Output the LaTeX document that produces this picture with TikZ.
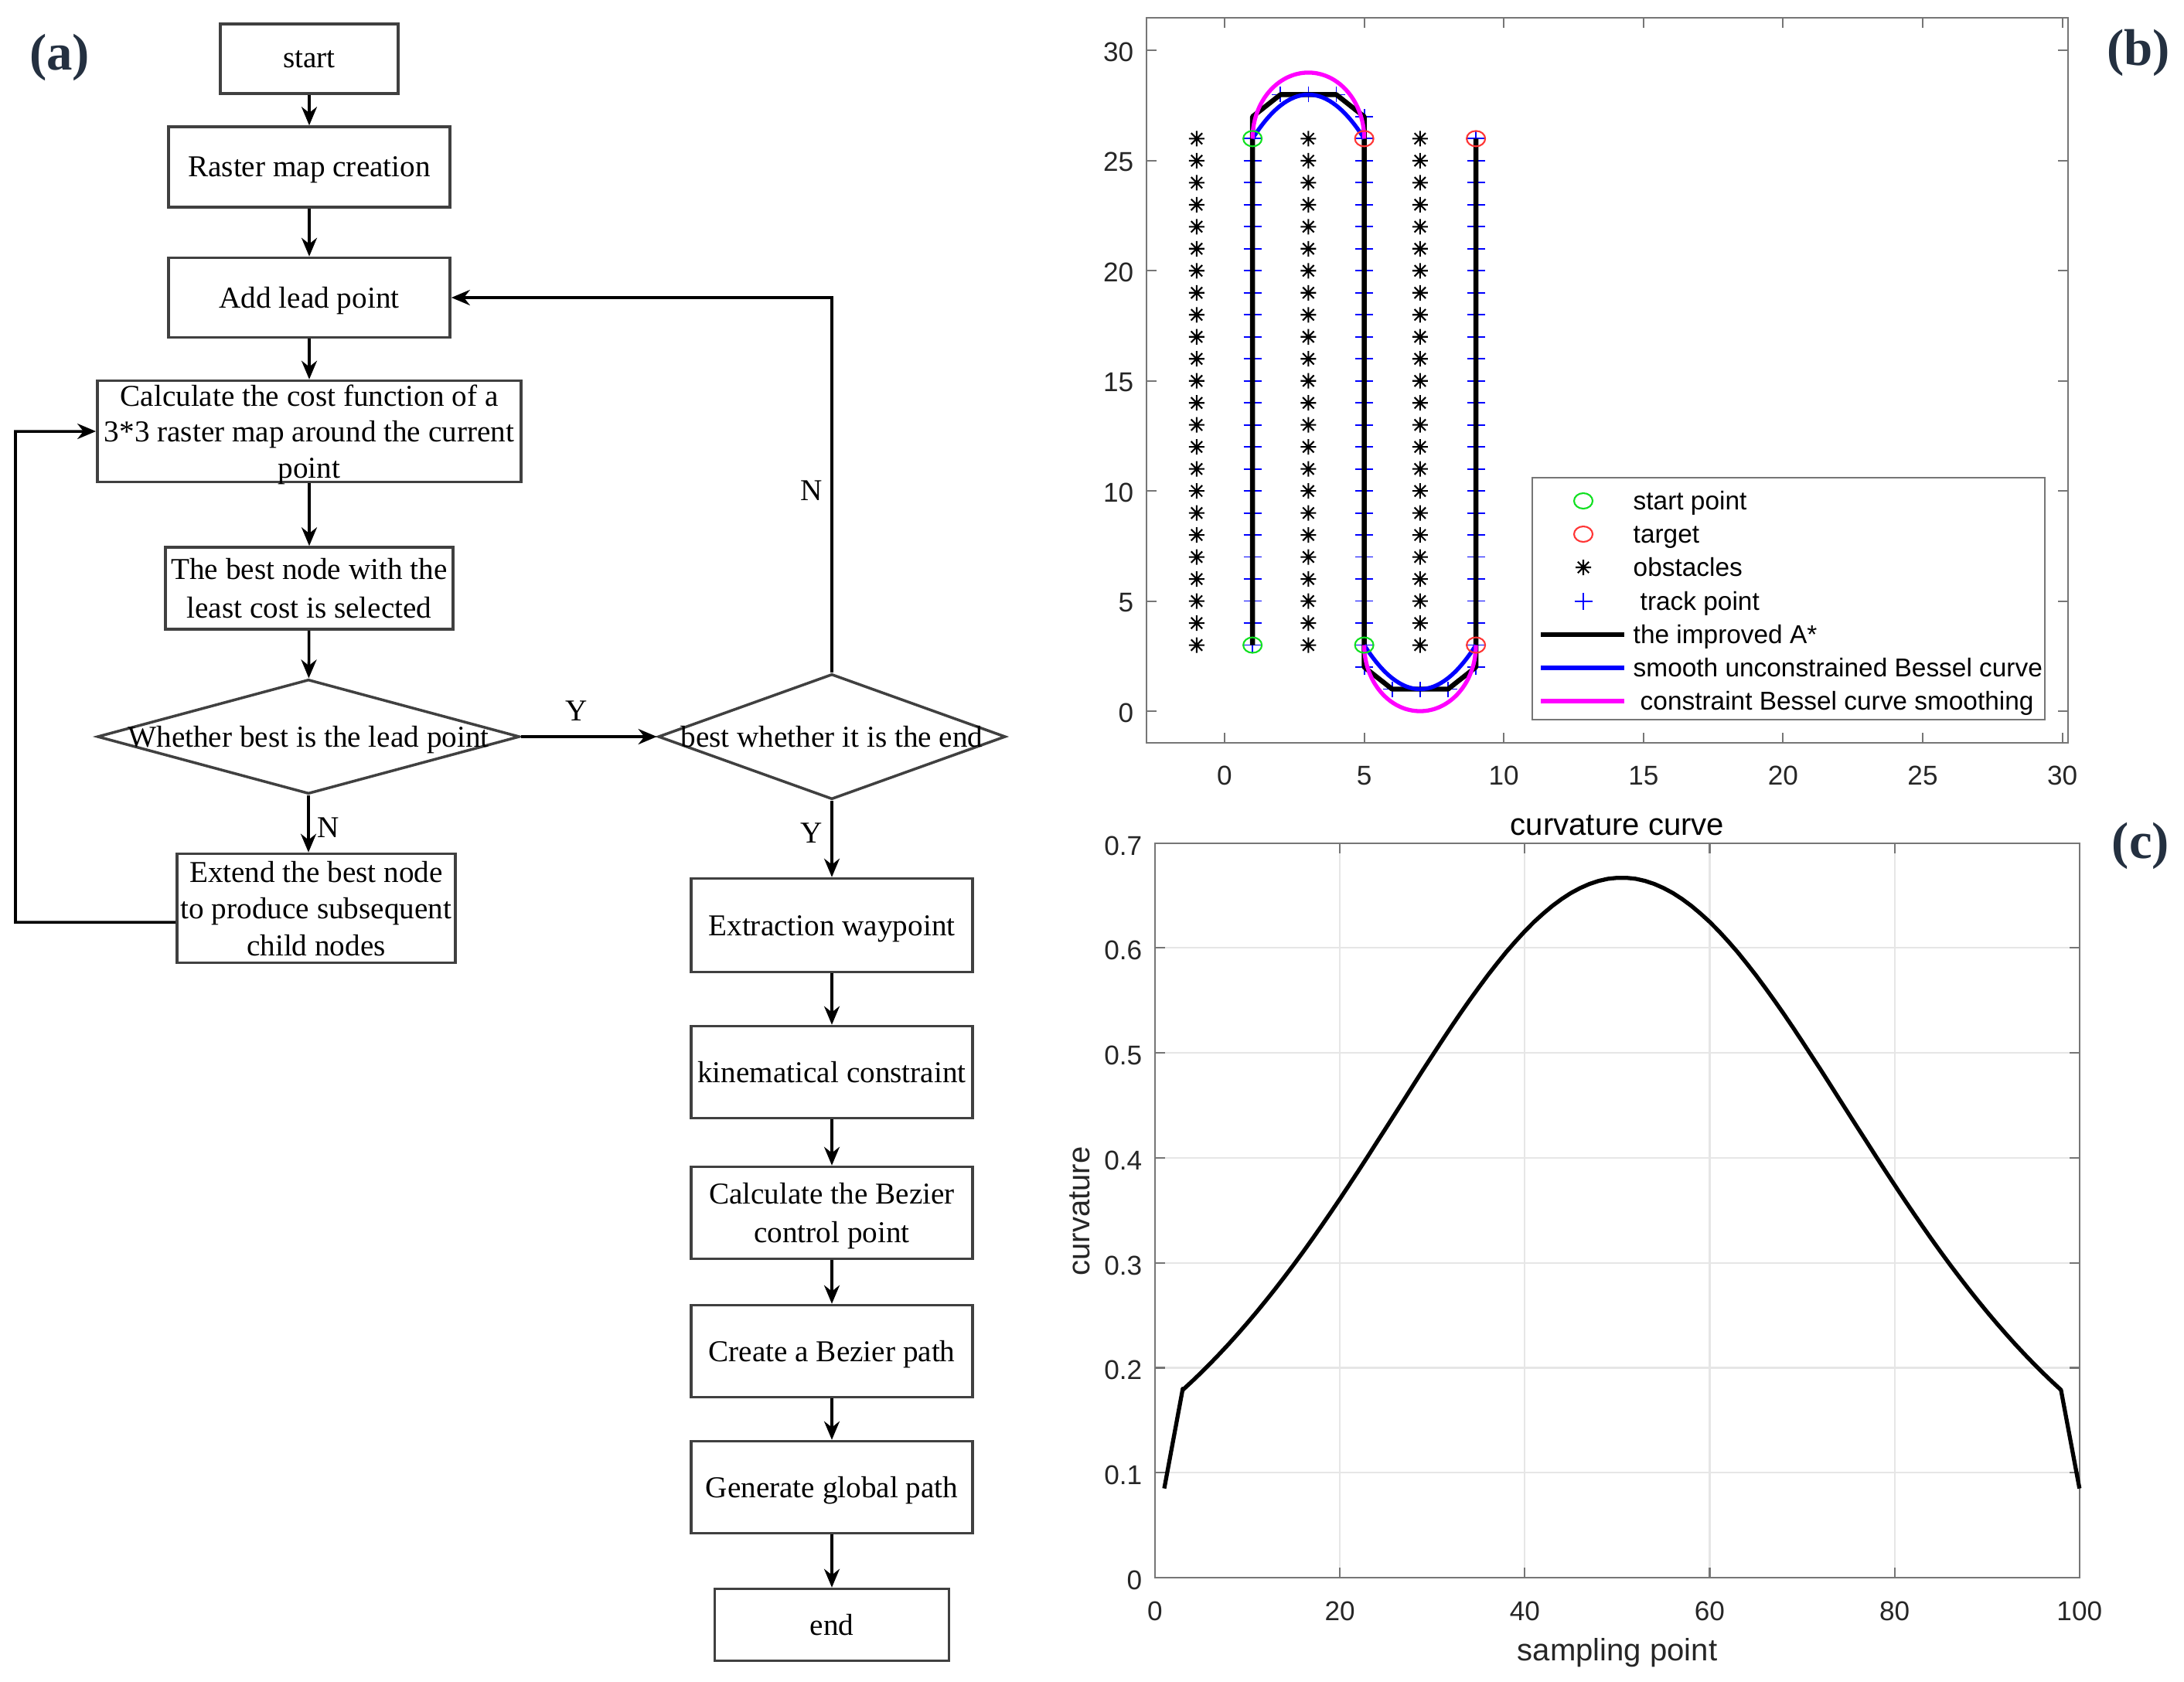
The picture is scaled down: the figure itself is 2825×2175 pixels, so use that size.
\documentclass[tikz,border=0pt]{standalone}
\usepackage{fontspec}
\setmainfont{Liberation Serif}
\setsansfont{Liberation Sans}
\usetikzlibrary{arrows.meta,shapes.geometric}
\definecolor{boxgray}{HTML}{404040}
\definecolor{axgray}{HTML}{767676}
\definecolor{labcol}{HTML}{262626}
\definecolor{gridcol}{HTML}{E6E6E6}
\definecolor{panelcol}{HTML}{243040}
\definecolor{mgreen}{HTML}{10E020}
\definecolor{mred}{HTML}{FF3535}
\definecolor{mblue}{HTML}{0000FF}
\definecolor{mmag}{HTML}{FF00FF}
\newcommand\flowfnt{\fontsize{11.15}{13.5}\selectfont}
\newcommand\tickfnt{\sffamily\fontsize{10}{12}\selectfont}
\newcommand\axlabfnt{\sffamily\fontsize{11.4}{13}\selectfont}
\newcommand\legfnt{\sffamily\fontsize{9.5}{11}\selectfont}
\newcommand\panelfnt{\fontsize{19}{20}\selectfont\bfseries}
\begin{document}
\begin{tikzpicture}[x=0.01cm, y=-0.01cm,
  fbox/.style={draw=boxgray, line width=1pt, fill=white, inner sep=0pt, align=center, font=\flowfnt, text depth=0pt},
  dia/.style={draw=boxgray, line width=1pt, diamond, inner sep=0pt},
  ftext/.style={inner sep=0pt, font=\flowfnt},
  arr/.style={draw=black, line width=1pt, -{Stealth[length=0.24cm,width=0.2cm]}},
  axline/.style={draw=axgray, line width=0.6pt},
  ticklab/.style={text=labcol, font=\tickfnt, inner sep=0pt},
  leglab/.style={text=black, font=\legfnt, inner sep=0pt, anchor=mid west},
  panel/.style={text=panelcol, font=\panelfnt, inner sep=0pt}]
\useasboundingbox (0,0) rectangle (2825,2175);

% ---------------- panel labels
\node[panel] (pa) at (77,74) {(a)};
\node[panel] (pb) at (2766,68) {(b)};
\node[panel] (pc) at (2769,1094) {(c)};

% ---------------- flowchart
\node[fbox, minimum width=2.30cm, minimum height=0.90cm] (start) at (400,76) {start};
\node[fbox, minimum width=3.64cm, minimum height=1.04cm] (raster) at (400,216) {Raster map creation};
\node[fbox, minimum width=3.64cm, minimum height=1.03cm] (lead) at (400,385) {Add lead point};
\node[fbox, minimum width=5.48cm, minimum height=1.31cm, font=\fontsize{11.15}{13.2}\selectfont] (cost) at (400,558) {Calculate the cost function of a\\3*3 raster map around the current\\point};
\node[fbox, minimum width=3.72cm, minimum height=1.06cm, font=\fontsize{11.15}{14.2}\selectfont] (best) at (400,761) {The best node with the\\least cost is selected};
\node[dia, minimum width=5.46cm, minimum height=1.48cm] (d1) at (399,953) {};
\node[ftext, text depth=0pt] (d1t) at (d1.center) {Whether best is the lead point};
\node[dia, minimum width=4.49cm, minimum height=1.62cm] (d2) at (1076,953) {};
\node[ftext, text depth=0pt] (d2t) at (d2.center) {best whether it is the end};
\node[fbox, minimum width=3.60cm, minimum height=1.41cm] (extend) at (409,1175) {Extend the best node\\to produce subsequent\\child nodes};
\node[fbox, minimum width=3.64cm, minimum height=1.21cm] (waypt) at (1076,1197) {Extraction waypoint};
\node[fbox, minimum width=3.64cm, minimum height=1.19cm] (kin) at (1076,1387) {kinematical constraint};
\node[fbox, minimum width=3.64cm, minimum height=1.19cm, font=\fontsize{11.15}{14.2}\selectfont] (ctrl) at (1076,1569) {Calculate the Bezier\\control point};
\node[fbox, minimum width=3.64cm, minimum height=1.19cm] (bpath) at (1076,1748) {Create a Bezier path};
\node[fbox, minimum width=3.64cm, minimum height=1.19cm] (glob) at (1076,1924) {Generate global path};
\node[fbox, minimum width=3.03cm, minimum height=0.93cm] (fend) at (1076,2102) {end};

\draw[arr] (start) -- (raster);
\draw[arr] (raster) -- (lead);
\draw[arr] (lead) -- (cost);
\draw[arr] (cost) -- (best);
\draw[arr] (best) -- (d1);
\draw[arr] (d1.east) -- (d2.west);
\draw[arr] (d1.south) -- (d1.south |- extend.north);
\coordinate (loopL) at (20,1193);
\draw[arr] ([yshift=-0.18cm]extend.west) -- (loopL) |- (cost.west);
\draw[arr] (d2.north) |- (lead.east);
\draw[arr] (d2.south) -- (waypt.north);
\draw[arr] (waypt) -- (kin);
\draw[arr] (kin) -- (ctrl);
\draw[arr] (ctrl) -- (bpath);
\draw[arr] (bpath) -- (glob);
\draw[arr] (glob) -- (fend);

\node[ftext] (lY1) at (746,920) {Y};
\node[ftext] (lN1) at (1050,635) {N};
\node[ftext] (lN2) at (425,1071) {N};
\node[ftext] (lY2) at (1050,1078) {Y};

% ---------------- plot (b)
\begin{scope}[shift={(1584,920)}, x=0.361cm, y=0.2847cm]
  \draw[axline] (-2.8,-1.44) rectangle (30.2,31.5);
  \foreach \t in {0,5,...,30} {
    \draw[axline] (\t,-1.44) -- ++(0,0.457);
    \draw[axline] (\t,31.5) -- ++(0,-0.457);
    \draw[axline] (-2.8,\t) -- ++(0.36,0);
    \draw[axline] (30.2,\t) -- ++(-0.36,0);
    \node[ticklab] (bx\t) at (\t,-2.92) {\t};
    \node[ticklab, anchor=east] (by\t) at (-3.24,\t-0.07) {\t};
  }
  % obstacles
  \foreach \cx in {-1,3,7} {
    \foreach \cy in {3,...,26} {
      \draw[black, line width=0.6pt] (\cx,\cy) +(-0.1cm,0) -- +(0.1cm,0)
        (\cx,\cy) +(0,-0.1cm) -- +(0,0.1cm)
        (\cx,\cy) +(-0.072cm,-0.072cm) -- +(0.072cm,0.072cm)
        (\cx,\cy) +(-0.072cm,0.072cm) -- +(0.072cm,-0.072cm);
    }
  }
  % track points
  \foreach \px/\py in {2/28,3/28,4/28,6/1,7/1,8/1} {
    \draw[mblue, line width=0.5pt] (\px,\py) +(-0.115cm,0) -- +(0.115cm,0) (\px,\py) +(0,-0.1cm) -- +(0,0.1cm);
  }
  \foreach \py in {3,...,26} {
    \draw[mblue, line width=0.5pt] (1,\py) +(-0.115cm,0) -- +(0.115cm,0) (1,\py) +(0,-0.1cm) -- +(0,0.1cm);
  }
  \foreach \py in {2,...,27} {
    \draw[mblue, line width=0.5pt] (5,\py) +(-0.115cm,0) -- +(0.115cm,0) (5,\py) +(0,-0.1cm) -- +(0,0.1cm);
  }
  \foreach \py in {2,...,26} {
    \draw[mblue, line width=0.5pt] (9,\py) +(-0.115cm,0) -- +(0.115cm,0) (9,\py) +(0,-0.1cm) -- +(0,0.1cm);
  }
  % improved A*
  \draw[black, line width=1.8pt, line join=round] (1,3) -- (1,27) -- (2,28) -- (4,28) -- (5,27) -- (5,2) -- (6,1) -- (8,1) -- (9,2) -- (9,26);
  % unconstrained Bezier
  \draw[mblue, line width=1.5pt] (1,26) .. controls (2.333,28.667) and (3.667,28.667) .. (5,26);
  \draw[mblue, line width=1.5pt] (5,3) .. controls (6.333,0.333) and (7.667,0.333) .. (9,3);
  % constrained Bezier
  \draw[mmag, line width=1.5pt] (1,26) arc[start angle=180, end angle=0, x radius=2, y radius=3];
  \draw[mmag, line width=1.5pt] (5,3) arc[start angle=180, end angle=360, x radius=2, y radius=3];
  % start / target
  \foreach \px/\py in {1/26,1/3,5/3} {
    \draw[mgreen, line width=0.6pt] (\px,\py) ellipse[x radius=0.12cm, y radius=0.1cm];
  }
  \foreach \px/\py in {5/26,9/26,9/3} {
    \draw[mred, line width=0.6pt] (\px,\py) ellipse[x radius=0.12cm, y radius=0.1cm];
  }
\end{scope}

% legend (b)
\draw[axline, fill=white] (1982,618) rectangle (2645,931);
\draw[mgreen, line width=0.6pt] (2048,648) ellipse[x radius=0.12cm, y radius=0.1cm];
\draw[mred, line width=0.6pt] (2048,691) ellipse[x radius=0.12cm, y radius=0.1cm];
\draw[black, line width=0.6pt] (2048,734) +(-0.1cm,0) -- +(0.1cm,0)
   (2048,734) +(0,-0.1cm) -- +(0,0.1cm)
   (2048,734) +(-0.072cm,-0.072cm) -- +(0.072cm,0.072cm)
   (2048,734) +(-0.072cm,0.072cm) -- +(0.072cm,-0.072cm);
\draw[mblue, line width=0.5pt] (2048,778) +(-0.115cm,0) -- +(0.115cm,0) (2048,778) +(0,-0.11cm) -- +(0,0.11cm);
\draw[black, line width=1.8pt] (1993,821) -- (2101,821);
\draw[mblue, line width=1.5pt] (1993,864) -- (2101,864);
\draw[mmag, line width=1.5pt] (1993,907) -- (2101,907);
\node[leglab] (lg1) at (2112,651) {start point};
\node[leglab] (lg2) at (2112,694) {target};
\node[leglab] (lg3) at (2112,737) {obstacles};
\node[leglab] (lg4) at (2121,781) {track point};
\node[leglab] (lg5) at (2112,824) {the improved A*};
\node[leglab] (lg6) at (2112,867) {smooth unconstrained Bessel curve};
\node[leglab] (lg7) at (2121,910) {constraint Bessel curve smoothing};

% ---------------- plot (c)
\begin{scope}[shift={(1494,2041)}, x=0.1195cm, y=13.57cm]
  \foreach \g in {20,40,60,80} { \draw[gridcol, line width=0.6pt] (\g,0) -- (\g,0.7); }
  \foreach \g in {1,...,6} { \draw[gridcol, line width=0.6pt] (0,\g/10) -- (100,\g/10); }
  \draw[axline] (0,0) rectangle (100,0.7);
  \foreach \t in {0,20,40,60,80,100} {
    \draw[axline] (\t,0) -- ++(0,0.0096);
    \draw[axline] (\t,0.7) -- ++(0,-0.0096);
    \node[ticklab] (cx\t) at (\t,-0.0318) {\t};
  }
  \foreach \v/\lab in {0/0,1/0.1,2/0.2,3/0.3,4/0.4,5/0.5,6/0.6,7/0.7} {
    \draw[axline] (0,\v/10) -- ++(1.09,0);
    \draw[axline] (100,\v/10) -- ++(-1.09,0);
    \node[ticklab, anchor=east] (cy\v) at (-1.34,\v/10-0.0025) {\lab};
  }
  \draw[black, line width=1.5pt, line join=round] (1,0.085) -- (3,0.18) -- plot[domain=3:98, samples=96] (\x, {0.667/(1+0.0002427*(\x-50.5)^2)^3}) -- (100,0.085);
\end{scope}
\node[text=black, font=\axlabfnt, inner sep=0pt, anchor=mid] (ctitle) at (2092,1072) {curvature curve};
\node[text=labcol, font=\axlabfnt, inner sep=0pt, anchor=mid] (cxlab) at (2092,2140) {sampling point};
\node[text=labcol, font=\axlabfnt, inner sep=0pt, anchor=mid, rotate=90] (cylab) at (1401,1567) {curvature};
\end{tikzpicture}
\end{document}
